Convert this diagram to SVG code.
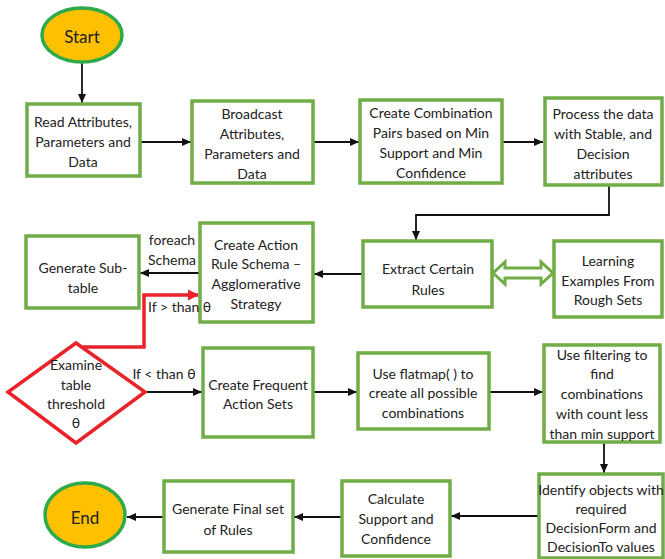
<svg xmlns="http://www.w3.org/2000/svg" width="665" height="559" viewBox="0 0 665 559">
<defs>
<style>
.box{fill:#fff;stroke:#70AD47;stroke-width:3.5}
.term{fill:#FFC000;stroke:#2EAA4A;stroke-width:3.5}
.dec{fill:#fff;stroke:#E8232A;stroke-width:3.5}
text{font-family:Lato,"Liberation Sans",Arial,sans-serif;font-size:14px;fill:#222;text-anchor:middle;dominant-baseline:central}
.big{font-size:17px}
.con{fill:none;stroke:#111;stroke-width:1.8;marker-end:url(#ah)}
.red{fill:none;stroke:#E8232A;stroke-width:3.5;marker-end:url(#ahr)}
</style>
<marker id="ah" markerUnits="userSpaceOnUse" markerWidth="10" markerHeight="10" refX="9" refY="5" orient="auto"><path d="M0,1 L9,5 L0,9 Z" fill="#111"/></marker>
<marker id="ahr" markerUnits="userSpaceOnUse" markerWidth="12" markerHeight="12" refX="10" refY="6" orient="auto"><path d="M0,0.5 L11,6 L0,11.5 Z" fill="#E8232A"/></marker>
</defs>
<rect width="665" height="559" fill="#fff"/>
<g id="connectors">
<path class="con" d="M82,63 V103"/>
<path class="con" d="M140,142 H191"/>
<path class="con" d="M313,142 H359"/>
<path class="con" d="M502,142 H543"/>
<path class="con" d="M609,185 V215 H416 V240"/>
<path class="con" d="M363,274 H314"/>
<path class="con" d="M200,273 H140"/>
<path class="red" d="M83,347 H144 V295 H198"/>
<path class="con" d="M145,392 H202"/>
<path class="con" d="M313,392 H357"/>
<path class="con" d="M489,392 H543"/>
<path class="con" d="M604,442 V473"/>
<path class="con" d="M539,516 H451"/>
<path class="con" d="M342,517 H294"/>
<path class="con" d="M164,517 H127"/>
<polygon points="493,273 505,262 505,268 541,268 541,262 553,273 541,284 541,278 505,278 505,284" fill="#fff" stroke="#70AD47" stroke-width="3"/>
<text x="172" y="239">foreach</text>
<text x="172" y="259">Schema</text>
<text x="164" y="373">If &lt;  than θ</text>
</g>
<g id="start"><ellipse class="term" cx="82" cy="35" rx="40" ry="27"/><text class="big" x="82" y="36">Start</text></g>
<g id="read"><rect class="box" x="27" y="104" width="113" height="72"/><text x="83" y="121">Read Attributes,</text><text x="83" y="141">Parameters and</text><text x="83" y="161">Data</text></g>
<g id="broadcast"><rect class="box" x="192" y="101" width="121" height="82"/><text x="252" y="113">Broadcast</text><text x="252" y="133">Attributes,</text><text x="252" y="153">Parameters and</text><text x="252" y="173">Data</text></g>
<g id="combination"><rect class="box" x="360" y="100" width="142" height="83"/><text x="431" y="112">Create Combination</text><text x="431" y="132">Pairs based on Min</text><text x="431" y="152">Support and Min</text><text x="431" y="172">Confidence</text></g>
<g id="process"><rect class="box" x="545" y="98" width="117" height="87"/><text x="603" y="113">Process the data</text><text x="603" y="133">with Stable, and</text><text x="603" y="153">Decision</text><text x="603" y="173">attributes</text></g>
<g id="extract"><rect class="box" x="363" y="241" width="129" height="66"/><text x="428" y="268">Extract  Certain</text><text x="428" y="289">Rules</text></g>
<g id="learning"><rect class="box" x="554" y="241" width="108" height="76"/><text x="608" y="260">Learning</text><text x="608" y="280">Examples From</text><text x="608" y="299">Rough Sets</text></g>
<g id="schema"><rect class="box" x="200" y="223" width="113" height="99"/><text x="256" y="244">Create Action</text><text x="256" y="263">Rule Schema –</text><text x="256" y="283">Agglomerative</text><text x="256" y="303">Strategy</text></g>
<g id="subtable"><rect class="box" x="26" y="236" width="113" height="72"/><text x="83" y="267">Generate  Sub-</text><text x="83" y="287">table</text></g>
<g id="examine"><polygon class="dec" points="76,343 145,392 76,443 8,392"/><text x="76" y="364">Examine</text><text x="76" y="384">table</text><text x="76" y="403">threshold</text><text x="76" y="422">θ</text></g>
<g id="frequent"><rect class="box" x="203" y="348" width="110" height="89"/><text x="258" y="384">Create Frequent</text><text x="258" y="403">Action Sets</text></g>
<g id="flatmap"><rect class="box" x="358" y="353" width="131" height="76"/><text x="423" y="373">Use flatmap( ) to</text><text x="423" y="392">create  all possible</text><text x="423" y="412">combinations</text></g>
<g id="filtering"><rect class="box" x="544" y="345" width="116" height="97"/><text x="602" y="354">Use filtering to</text><text x="602" y="373">find</text><text x="602" y="393">combinations</text><text x="602" y="413">with count less</text><text x="602" y="433">than min support</text></g>
<g id="identify"><rect class="box" x="539" y="474" width="124" height="84"/><text x="601" y="489" font-size="12.5">Identify objects with</text><text x="601" y="508">required</text><text x="601" y="527">DecisionForm and</text><text x="601" y="546">DecisionTo  values</text></g>
<g id="calculate"><rect class="box" x="342" y="481" width="108" height="75"/><text x="396" y="498">Calculate</text><text x="396" y="518">Support and</text><text x="396" y="538">Confidence</text></g>
<g id="final"><rect class="box" x="164" y="481" width="129" height="71"/><text x="228" y="508">Generate Final set</text><text x="228" y="529">of Rules</text></g>
<g id="end"><ellipse class="term" cx="85" cy="515" rx="40" ry="32"/><text class="big" x="85" y="517">End</text></g>
<g id="edge-labels"><text x="148" y="306" font-size="11" style="text-anchor:start">If &gt; than θ</text></g>
</svg>
